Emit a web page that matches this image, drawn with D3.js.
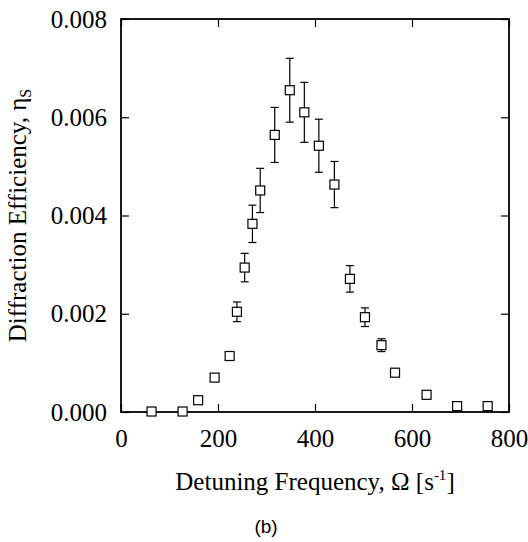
<!DOCTYPE html>
<html>
<head>
<meta charset="utf-8">
<title>Diffraction efficiency vs detuning</title>
<style>
    html, body { margin: 0; padding: 0; background: #fff; }
</style>
<script src="https://d3js.org/d3.v7.min.js"></script>
</head>
<body>
<svg id="chart"></svg>
<script>
// detuning frequency (s^-1)
const omega = [63, 127, 159, 193, 224, 239, 255, 271, 287, 317, 348, 378, 408, 440, 472, 503, 537, 565, 630, 693, 756];
// diffraction efficiency
const eta = [0.00001, 0.00001, 0.00024, 0.00070, 0.00114, 0.00204, 0.00294, 0.00383, 0.00451, 0.00564, 0.00655, 0.00610, 0.00542, 0.00463, 0.00271, 0.00193, 0.00136, 0.00080, 0.00035, 0.00012, 0.00012];
// half length of error bars
const etaErr = [0, 0, 0, 0, 0.00005, 0.00020, 0.00029, 0.00038, 0.00045, 0.00056, 0.00065, 0.00061, 0.00054, 0.00047, 0.00027, 0.00019, 0.00013, 0.00003, 0, 0, 0];

const xTicks = [0, 200, 400, 600, 800];
const yTicks = [0, 0.002, 0.004, 0.006, 0.008];

const serif = "'Liberation Serif', 'Times New Roman', Times, 'DejaVu Serif', serif";

const width = 528, height = 542;
const margin = { top: 19, right: 19, bottom: 130, left: 121 };
const w = width - margin.left - margin.right;
const h = height - margin.top - margin.bottom;

const svgRoot = d3.select("#chart").attr("width", width).attr("height", height);
svgRoot.append("rect").attr("width", width).attr("height", height).attr("fill", "#fff");
const svg = svgRoot.append("g").attr("transform", "translate(" + margin.left + "," + margin.top + ")");

const x = d3.scaleLinear().domain([0, 800]).range([0, w]);
const y = d3.scaleLinear().domain([0, 0.008]).range([h, 0]);

const tickLen = 8;

function styleLabels(g) {
    g.attr("font-family", null).attr("font-size", null);
    g.selectAll("text").style("font-family", serif).style("font-size", "25px").attr("fill", "#000");
}

// axes with inward ticks on all four sides
svg.append("g").attr("transform", "translate(0," + h + ")")
    .call(d3.axisBottom(x).tickValues(xTicks).tickSizeInner(-tickLen).tickSizeOuter(0).tickFormat(d3.format("d")).tickPadding(17))
    .call(styleLabels);
svg.append("g")
    .call(d3.axisTop(x).tickValues(xTicks).tickSizeInner(-tickLen).tickSizeOuter(0).tickFormat(""));
svg.append("g")
    .call(d3.axisLeft(y).tickValues(yTicks).tickSizeInner(-tickLen).tickSizeOuter(0).tickFormat(d3.format(".3f")).tickPadding(14))
    .call(styleLabels);
svg.append("g").attr("transform", "translate(" + w + ",0)")
    .call(d3.axisRight(y).tickValues(yTicks).tickSizeInner(-tickLen).tickSizeOuter(0).tickFormat(""));

svg.selectAll(".domain").remove();
svg.selectAll(".tick line").attr("stroke", "#000").attr("stroke-width", 1.2);

// frame
svg.append("rect").attr("width", w).attr("height", h)
    .attr("fill", "none").attr("stroke", "#000").attr("stroke-width", 1.8);

const pts = omega.map((o, i) => ({ o: o, e: eta[i], err: etaErr[i] }));

// error bars
const eb = svg.selectAll(".eb").data(pts.filter(d => d.err > 0)).enter().append("g").attr("class", "eb")
    .attr("stroke", "#000").attr("stroke-width", 1.2);
eb.append("line")
    .attr("x1", d => x(d.o)).attr("x2", d => x(d.o))
    .attr("y1", d => y(d.e + d.err)).attr("y2", d => y(d.e - d.err));
eb.append("line")
    .attr("x1", d => x(d.o) - 4).attr("x2", d => x(d.o) + 4)
    .attr("y1", d => y(d.e + d.err)).attr("y2", d => y(d.e + d.err));
eb.append("line")
    .attr("x1", d => x(d.o) - 4).attr("x2", d => x(d.o) + 4)
    .attr("y1", d => y(d.e - d.err)).attr("y2", d => y(d.e - d.err));

// open square markers
const s = 9;
svg.selectAll(".pt").data(pts).enter().append("rect").attr("class", "pt")
    .attr("x", d => x(d.o) - s / 2).attr("y", d => y(d.e) - s / 2)
    .attr("width", s).attr("height", s)
    .attr("fill", "#fff").attr("stroke", "#000").attr("stroke-width", 1.2);

// x title
const xt = svgRoot.append("text")
    .style("font-family", serif).style("font-size", "25px")
    .attr("x", margin.left + w / 2).attr("y", 490).attr("text-anchor", "middle");
xt.append("tspan").text("Detuning Frequency, \u03A9 [s");
xt.append("tspan").attr("dy", -10).style("font-size", "15px").text("-1");
xt.append("tspan").attr("dy", 10).text("]");

// y title
const yt = svgRoot.append("text")
    .style("font-family", serif).style("font-size", "25px")
    .attr("transform", "translate(26," + (margin.top + h / 2) + ") rotate(-90)")
    .attr("text-anchor", "middle");
yt.append("tspan").text("Diffraction Efficiency, \u03B7");
yt.append("tspan").attr("dy", 5).style("font-size", "16px").text("S");

// panel label
svgRoot.append("text")
    .attr("x", 266).attr("y", 533).attr("text-anchor", "middle")
    .style("font-family", "'Liberation Sans', Arial, sans-serif").style("font-size", "19px")
    .text("(b)");
</script>
</body>
</html>
